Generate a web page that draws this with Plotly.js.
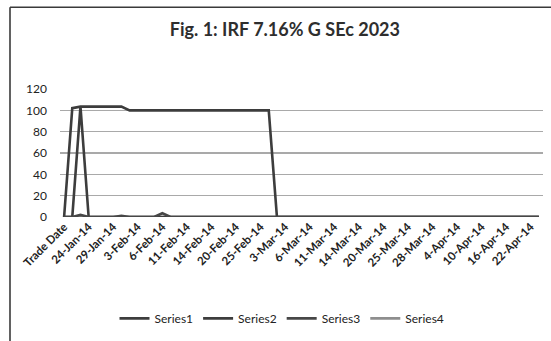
<!DOCTYPE html>
<html>
<head>
<meta charset="utf-8">
<script src="https://cdn.plot.ly/plotly-3.0.1.min.js"></script>
<style>
  html, body { margin: 0; padding: 0; background: #ffffff; }
  #chart { width: 551px; height: 341px; }
</style>
</head>
<body>
<div id="chart"></div>
<script>
// Trading days (first row of the sheet is the header "Trade Date")
const tradeDates = [
  "Trade Date", "22-Jan-14", "23-Jan-14", "24-Jan-14", "27-Jan-14", "28-Jan-14",
  "29-Jan-14", "30-Jan-14", "31-Jan-14", "3-Feb-14", "4-Feb-14", "5-Feb-14",
  "6-Feb-14", "7-Feb-14", "10-Feb-14", "11-Feb-14", "12-Feb-14", "13-Feb-14",
  "14-Feb-14", "17-Feb-14", "18-Feb-14", "20-Feb-14", "21-Feb-14", "24-Feb-14",
  "25-Feb-14", "26-Feb-14", "28-Feb-14", "3-Mar-14", "4-Mar-14", "5-Mar-14",
  "6-Mar-14", "7-Mar-14", "10-Mar-14", "11-Mar-14", "12-Mar-14", "13-Mar-14",
  "14-Mar-14", "18-Mar-14", "19-Mar-14", "20-Mar-14", "21-Mar-14", "24-Mar-14",
  "25-Mar-14", "26-Mar-14", "27-Mar-14", "28-Mar-14", "1-Apr-14", "3-Apr-14",
  "4-Apr-14", "7-Apr-14", "9-Apr-14", "10-Apr-14", "11-Apr-14", "15-Apr-14",
  "16-Apr-14", "17-Apr-14", "21-Apr-14", "22-Apr-14", "23-Apr-14"
];

// Price series
const series1 = [
  0, 102, 103.5, 103.5, 103.5, 103.5, 103.5, 103.5, 100, 100,
  100, 100, 100, 100, 100, 100, 100, 100, 100, 100,
  100, 100, 100, 100, 100, 100, 0, 0, 0, 0,
  0, 0, 0, 0, 0, 0, 0, 0, 0, 0,
  0, 0, 0, 0, 0, 0, 0, 0, 0, 0,
  0, 0, 0, 0, 0, 0, 0, 0, 0
];
const series2 = [
  0, 0, 103.5, 0, 0, 0, 0, 0, 0, 0,
  0, 0, 0, 0, 0, 0, 0, 0, 0, 0,
  0, 0, 0, 0, 0, 0, 0, 0, 0, 0,
  0, 0, 0, 0, 0, 0, 0, 0, 0, 0,
  0, 0, 0, 0, 0, 0, 0, 0, 0, 0,
  0, 0, 0, 0, 0, 0, 0, 0, 0
];
const series3 = [
  0, 0, 2, 0, 0, 0, 0, 1, 0, 0,
  0, 0, 3.5, 0, 0, 0, 0, 0, 0, 0,
  0, 0, 0, 0, 0, 0, 0, 0, 0, 0,
  0, 0, 0, 0, 0, 0, 0, 0, 0, 0,
  0, 0, 0, 0, 0, 0, 0, 0, 0, 0,
  0, 0, 0, 0, 0, 0, 0, 0, 0
];
const series4 = [
  0, 0, 0, 0, 0, 0, 0, 0, 0, 0,
  0, 0, 0, 0, 0, 0, 0, 0, 0, 0,
  0, 0, 0, 0, 0, 0, 0, 0, 0, 0,
  0, 0, 0, 0, 0, 0, 0, 0, 0, 0,
  0, 0, 0, 0, 0, 0, 0, 0, 0, 0,
  0, 0, 0, 0, 0, 0, 0, 0, 0
];

const seriesNames = ["Series1", "Series2", "Series3", "Series4"];
const yTicks = [0, 20, 40, 60, 80, 100, 120];

// Every third trading day carries a label on the axis
const labelledDates = tradeDates.filter((d, i) => i % 3 === 0);

const FONT = "Lato, 'Open Sans', sans-serif";

function lineTrace(name, values, color, rank) {
  return {
    type: "scatter",
    mode: "lines",
    name: name,
    x: tradeDates,
    y: values,
    line: { color: color, width: 2.6 },
    legendrank: rank,
    hoverinfo: "skip"
  };
}

// Series4 is laid down first so the darker lines sit on top of it
const data = [
  lineTrace(seriesNames[3], series4, "#8e8e8e", 4),
  lineTrace(seriesNames[0], series1, "#3d3d3d", 1),
  lineTrace(seriesNames[1], series2, "#3d3d3d", 2),
  lineTrace(seriesNames[2], series3, "#474747", 3)
];

// Plot area: x 60..543, y 89..219 (pixels)
const L = 60, R = 543, T = 89, B = 219;
const px = v => (v - L) / (R - L);
const py = v => (B - v) / (B - T);

const layout = {
  width: 551,
  height: 341,
  margin: { l: L, r: 551 - R, t: T, b: 341 - B, pad: 0 },
  paper_bgcolor: "#ffffff",
  plot_bgcolor: "#ffffff",
  font: { family: FONT, color: "#222222" },
  title: {
    text: "Fig. 1: IRF 7.16% G SEc 2023",
    font: { family: FONT, size: 18, color: "#2e2e2e", weight: "bold" },
    x: 0.517,
    xanchor: "center",
    y: 1 - 30 / 341,
    yanchor: "middle",
    xref: "container",
    yref: "container"
  },
  showlegend: true,
  legend: {
    orientation: "h",
    x: px(282),
    xanchor: "center",
    y: py(322),
    yanchor: "middle",
    font: { family: FONT, size: 12, color: "#222222" },
    itemwidth: 30,
    bgcolor: "rgba(0,0,0,0)"
  },
  xaxis: {
    type: "category",
    range: [-0.5, tradeDates.length - 0.5],
    tickmode: "array",
    tickvals: labelledDates,
    ticktext: labelledDates,
    tickangle: -45,
    tickfont: { family: FONT, size: 11.5, color: "#222222", weight: "bold" },
    showgrid: false,
    zeroline: false,
    showline: false,
    ticks: "",
    fixedrange: true
  },
  yaxis: {
    range: [0, 120],
    tickmode: "array",
    tickvals: yTicks,
    ticktext: yTicks.map(String),
    tickfont: { family: FONT, size: 12, color: "#222222" },
    ticklabelstandoff: 12,
    showgrid: true,
    gridcolor: "#a9a9a9",
    gridwidth: 1.6,
    zeroline: false,
    showline: false,
    ticks: "",
    fixedrange: true
  },
  shapes: [
    // frame: left edge and top edge
    {
      type: "line", xref: "paper", yref: "paper",
      x0: px(10), x1: px(10), y0: py(6), y1: py(345),
      line: { color: "#3a3a3a", width: 1.6 }, layer: "above"
    },
    {
      type: "line", xref: "paper", yref: "paper",
      x0: px(10), x1: px(555), y0: py(6), y1: py(6),
      line: { color: "#3a3a3a", width: 1.6 }, layer: "above"
    }
  ]
};

Plotly.newPlot("chart", data, layout, { staticPlot: true, displayModeBar: false });
</script>
</body>
</html>
